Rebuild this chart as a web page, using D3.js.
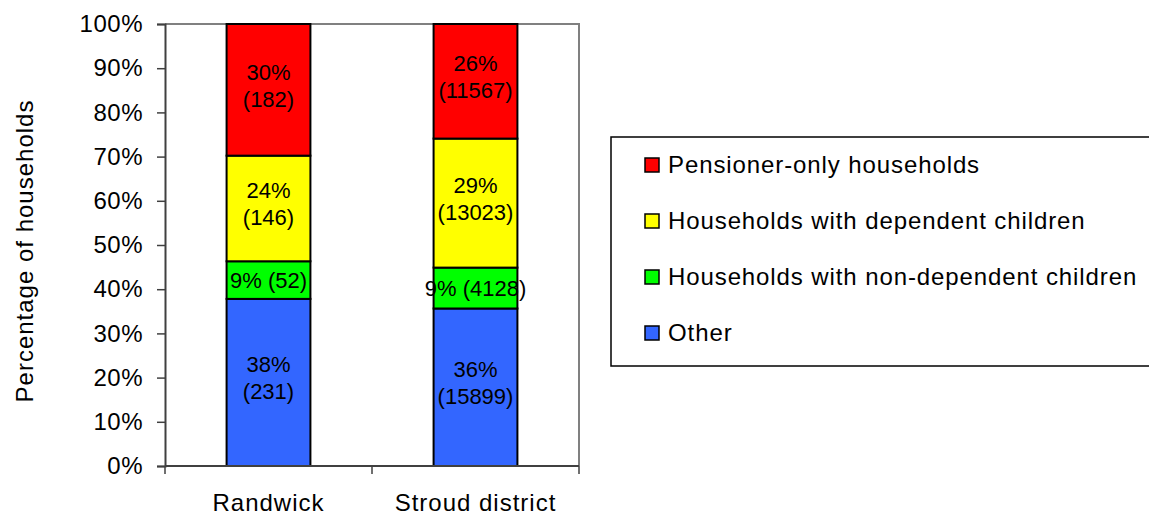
<!DOCTYPE html>
<html>
<head>
<meta charset="utf-8">
<script src="https://cdn.jsdelivr.net/npm/d3@7"></script>
<style>
  body { margin: 0; background: #fff; }
  text { font-family: "Liberation Sans", Arial, sans-serif; fill: #000; }
</style>
</head>
<body>
<div id="chart"></div>
<script>
// Household composition, Randwick vs Stroud district (100% stacked)
const areas = ["Randwick", "Stroud district"];
const seriesNames = ["Other", "Households with non-dependent children", "Households with dependent children", "Pensioner-only households"];
const seriesKeys = ["other", "nondep", "dep", "pension"];
const other = [231, 15899];
const nonDependent = [52, 4128];
const dependent = [146, 13023];
const pensioner = [182, 11567];
const pctLabels = {
  other: ["38%", "36%"],
  nondep: ["9%", "9%"],
  dep: ["24%", "29%"],
  pension: ["30%", "26%"]
};
const yTicks = [0, 0.1, 0.2, 0.3, 0.4, 0.5, 0.6, 0.7, 0.8, 0.9, 1];
const colors = ["#3366ff", "#00ff00", "#ffff00", "#ff0000"];

const width = 1149, height = 516;

// build table for the stack
const table = areas.map((a, i) => {
  const row = {area: a, other: other[i], nondep: nonDependent[i], dep: dependent[i], pension: pensioner[i]};
  row.total = row.other + row.nondep + row.dep + row.pension;
  return row;
});

const stack = d3.stack()
    .keys(seriesKeys)
    .value((d, k) => d[k] / d.total);
const stacked = stack(table);

const svg = d3.select("#chart")
  .append("svg")
    .attr("width", width)
    .attr("height", height);

const x = d3.scaleBand()
    .domain(areas)
    .range([165, 579])
    .paddingInner(0.595)
    .paddingOuter(0.2975);

const y = d3.scaleLinear()
    .domain([0, 1])
    .range([466, 24]);

const color = d3.scaleOrdinal().domain(seriesKeys).range(colors);

// plot area frame (top and right gray)
svg.append("path")
    .attr("d", `M165,24H579V466`)
    .attr("fill", "none")
    .attr("stroke", "#808080")
    .attr("stroke-width", 2);

// Bars
const groups = svg.append("g")
  .selectAll("g")
  .data(stacked)
  .enter()
  .append("g")
    .attr("fill", d => color(d.key));

groups.selectAll("rect")
  .data(d => d.map(v => Object.assign(v, {key: d.key})))
  .enter()
  .append("rect")
    .attr("x", d => x(d.data.area))
    .attr("y", d => y(d[1]))
    .attr("width", x.bandwidth())
    .attr("height", d => y(d[0]) - y(d[1]))
    .attr("stroke", "#000")
    .attr("stroke-width", 2);

// Segment labels
const fs = 24;
groups.selectAll("text")
  .data(d => d)
  .enter()
  .append("text")
    .attr("text-anchor", "middle")
    .attr("font-size", "22px")
    .each(function(d) {
      const i = areas.indexOf(d.data.area);
      const cx = x(d.data.area) + x.bandwidth() / 2;
      const cy = (y(d[0]) + y(d[1])) / 2;
      const t = d3.select(this);
      const pct = pctLabels[d.key][i];
      const n = d.data[d.key];
      if (d.key === "nondep") {
        t.append("tspan").attr("x", cx).attr("y", cy + 8).text(`${pct} (${n})`);
      } else {
        t.append("tspan").attr("x", cx).attr("y", cy - 10).text(pct);
        t.append("tspan").attr("x", cx).attr("y", cy + 17).text(`(${n})`);
      }
    });

// Y axis
const yAxis = svg.append("g")
    .attr("transform", "translate(165,0)")
    .call(d3.axisLeft(y).tickValues(yTicks).tickFormat(d3.format(".0%")).tickSize(8).tickPadding(14));
yAxis.select(".domain").attr("stroke", "#404040").attr("stroke-width", 2);
yAxis.selectAll(".tick line").attr("stroke", "#404040").attr("stroke-width", 1.5);
yAxis.selectAll(".tick text")
    .attr("font-size", fs + "px")
    .attr("font-family", "Liberation Sans, Arial, sans-serif")
    .attr("letter-spacing", "0.5px")
    .attr("fill", "#000");

// X axis
const xAxis = svg.append("g")
    .attr("transform", "translate(0,466)");
xAxis.append("line")
    .attr("x1", 165).attr("x2", 579)
    .attr("stroke", "#404040").attr("stroke-width", 2);
xAxis.selectAll("line.tk")
  .data([165, 372, 579])
  .enter()
  .append("line")
    .attr("class", "tk")
    .attr("x1", d => d).attr("x2", d => d)
    .attr("y1", 0).attr("y2", 8)
    .attr("stroke", "#404040").attr("stroke-width", 1.5);
xAxis.selectAll("text")
  .data(areas)
  .enter()
  .append("text")
    .attr("x", d => x(d) + x.bandwidth() / 2)
    .attr("y", 45)
    .attr("text-anchor", "middle")
    .attr("font-size", fs + "px")
    .attr("letter-spacing", "1px")
    .text(d => d);

// Y title
svg.append("text")
    .attr("transform", "translate(33,251) rotate(-90)")
    .attr("text-anchor", "middle")
    .attr("font-size", fs + "px")
    .attr("letter-spacing", "1px")
    .text("Percentage of households");

// Legend
svg.append("rect")
    .attr("x", 611).attr("y", 137)
    .attr("width", 560).attr("height", 229)
    .attr("fill", "none")
    .attr("stroke", "#000")
    .attr("stroke-width", 1.5);

const legendOrder = seriesKeys.slice().reverse();
const legend = svg.append("g")
  .selectAll("g")
  .data(legendOrder)
  .enter()
  .append("g")
    .attr("transform", (d, i) => `translate(645,${165 + i * 56})`);
legend.append("rect")
    .attr("x", 0).attr("y", -7)
    .attr("width", 14).attr("height", 14)
    .attr("fill", d => color(d))
    .attr("stroke", "#000")
    .attr("stroke-width", 1.5);
legend.append("text")
    .attr("x", 23)
    .attr("y", 8)
    .attr("font-size", fs + "px")
    .attr("letter-spacing", "0.9px")
    .text(d => seriesNames[seriesKeys.indexOf(d)]);
</script>
</body>
</html>
